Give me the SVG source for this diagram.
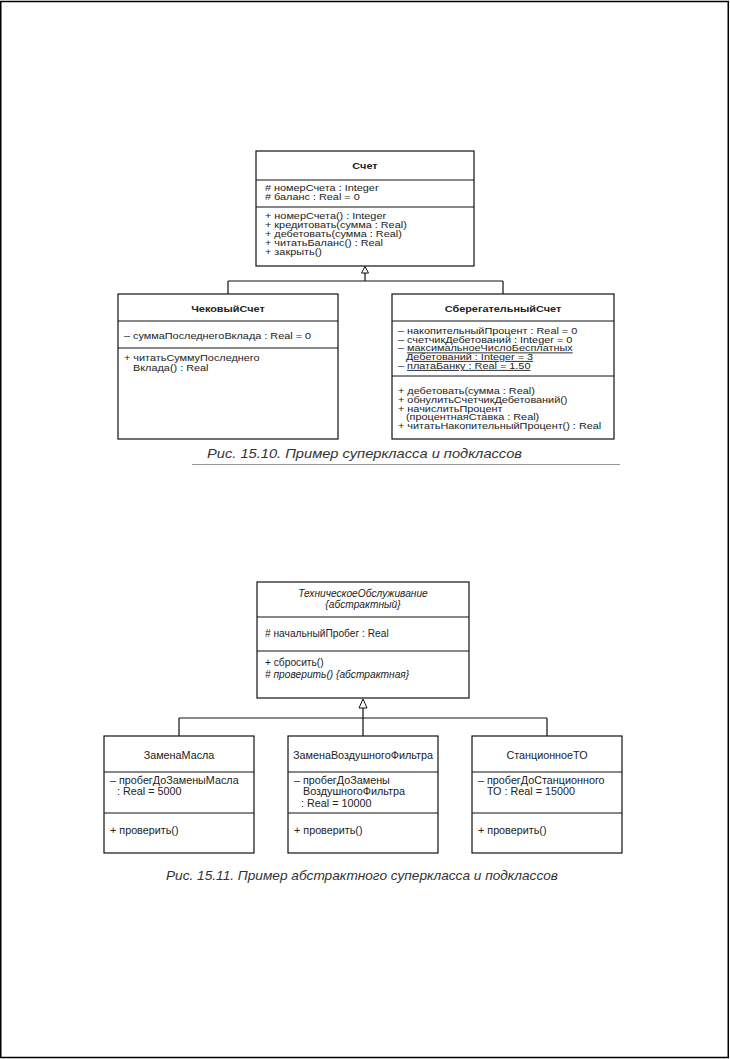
<svg xmlns="http://www.w3.org/2000/svg" width="730" height="1059" viewBox="0 0 730 1059">
<style>
.box{fill:#fff;stroke:#111;stroke-width:1.2}
.div{stroke:#111;stroke-width:1}
.con{fill:none;stroke:#111;stroke-width:1.2}
.tri{fill:#fff;stroke:#111;stroke-width:1}
text{font-family:"Liberation Sans",Arial,sans-serif;fill:#222}
.s1{font-size:9.3px;transform-box:fill-box;transform-origin:0 50%;transform:scaleX(1.17)}
.s2{font-size:10px;transform-box:fill-box;transform-origin:0 50%;transform:scaleX(1.08)}
.s3{font-size:10px;transform-box:fill-box;transform-origin:0 50%;transform:scaleX(1.02)}
.b{font-weight:bold}
.i{font-style:italic}
.c{text-anchor:middle;transform-origin:50% 50%}
.cap{font-size:13px;font-style:italic;fill:#333}
.u{text-decoration:underline}
</style>
<rect x="0.75" y="1.5" width="727.5" height="1056" fill="#fff" stroke="#000" stroke-width="1.5"/>

<!-- Diagram 1 -->
<g id="connectors1">
<path class="con" d="M365 273V281M228 281H503M228 281V294M503 281V294"/>
<path class="tri" d="M365 266.5L368.5 273H361.5Z"/>
</g>
<g id="schet">
<rect class="box" x="256" y="151" width="218" height="115"/>
<line class="div" x1="256" y1="180" x2="474" y2="180"/>
<line class="div" x1="256" y1="207" x2="474" y2="207"/>
<text class="s1 b c" x="365" y="169">Счет</text>
<text class="s1" x="265" y="191"># номерСчета : Integer</text>
<text class="s1" x="265" y="200.5"># баланс : Real = 0</text>
<text class="s1" x="265" y="219">+ номерСчета() : Integer</text>
<text class="s1" x="265" y="228">+ кредитовать(сумма : Real)</text>
<text class="s1" x="265" y="237">+ дебетовать(сумма : Real)</text>
<text class="s1" x="265" y="246">+ читатьБаланс() : Real</text>
<text class="s1" x="265" y="255">+ закрыть()</text>
</g>
<g id="chekovyi">
<rect class="box" x="118" y="294" width="220" height="145"/>
<line class="div" x1="118" y1="321" x2="338" y2="321"/>
<line class="div" x1="118" y1="348" x2="338" y2="348"/>
<text class="s1 b c" x="228" y="312">ЧековыйСчет</text>
<text class="s1" x="124" y="339">– суммаПоследнегоВклада : Real = 0</text>
<text class="s1" x="124" y="361">+ читатьСуммуПоследнего</text>
<text class="s1" x="133" y="371">Вклада() : Real</text>
</g>
<g id="sberegatelnyi">
<rect class="box" x="392" y="294" width="222" height="145"/>
<line class="div" x1="392" y1="321" x2="614" y2="321"/>
<line class="div" x1="392" y1="376" x2="614" y2="376"/>
<text class="s1 b c" x="503" y="312">СберегательныйСчет</text>
<text class="s1" x="398" y="334.5">– накопительныйПроцент : Real = 0</text>
<text class="s1" x="398" y="343">– счетчикДебетований : Integer = 0</text>
<text class="s1" x="398" y="351.5">– <tspan class="u">максимальноеЧислоБесплатных</tspan></text>
<text class="s1 u" x="406" y="360">Дебетований : Integer = 3</text>
<text class="s1" x="398" y="369">– <tspan class="u">платаБанку : Real = 1.50</tspan></text>
<text class="s1" x="398" y="394">+ дебетовать(сумма : Real)</text>
<text class="s1" x="398" y="403">+ обнулитьСчетчикДебетований()</text>
<text class="s1" x="398" y="412">+ начислитьПроцент</text>
<text class="s1" x="406" y="420.5">(процентнаяСтавка : Real)</text>
<text class="s1" x="398" y="429">+ читатьНакопительныйПроцент() : Real</text>
</g>
<g id="caption1">
<text class="cap" x="207" y="458" textLength="315" lengthAdjust="spacingAndGlyphs">Рис. 15.10. Пример суперкласса и подклассов</text>
<line x1="192" y1="464.5" x2="620" y2="464.5" stroke="#999" stroke-width="1"/>
</g>

<!-- Diagram 2 -->
<g id="connectors2">
<path class="con" d="M363 708V718M179 718H547M179 718V736M363 718V736M547 718V736"/>
<path class="tri" d="M363 699L367 708H359Z"/>
</g>
<g id="tehobsl">
<rect class="box" x="257" y="582" width="212" height="116"/>
<line class="div" x1="257" y1="617" x2="469" y2="617"/>
<line class="div" x1="257" y1="651" x2="469" y2="651"/>
<text class="s3 i c" x="363" y="597">ТехническоеОбслуживание</text>
<text class="s3 i c" x="363" y="608">{абстрактный}</text>
<text class="s3" x="265" y="637"># начальныйПробег : Real</text>
<text class="s3" x="265" y="666">+ сбросить()</text>
<text class="s3 i" x="265" y="678"># проверить() {абстрактная}</text>
</g>
<g id="zamenaMasla">
<rect class="box" x="104" y="736" width="150" height="117"/>
<line class="div" x1="104" y1="772" x2="254" y2="772"/>
<line class="div" x1="104" y1="813" x2="254" y2="813"/>
<text class="s2 c" x="179" y="759">ЗаменаМасла</text>
<text class="s2" x="110" y="784">– пробегДоЗаменыМасла</text>
<text class="s2" x="117" y="795.5">: Real = 5000</text>
<text class="s2" x="110" y="834">+ проверить()</text>
</g>
<g id="zamenaFiltra">
<rect class="box" x="288" y="736" width="150" height="117"/>
<line class="div" x1="288" y1="772" x2="438" y2="772"/>
<line class="div" x1="288" y1="813" x2="438" y2="813"/>
<text class="s2 c" x="363" y="759">ЗаменаВоздушногоФильтра</text>
<text class="s2" x="294" y="784">– пробегДоЗамены</text>
<text class="s2" x="303" y="795.5">ВоздушногоФильтра</text>
<text class="s2" x="301" y="807">: Real = 10000</text>
<text class="s2" x="294" y="834">+ проверить()</text>
</g>
<g id="stancionnoe">
<rect class="box" x="472" y="736" width="150" height="117"/>
<line class="div" x1="472" y1="772" x2="622" y2="772"/>
<line class="div" x1="472" y1="813" x2="622" y2="813"/>
<text class="s2 c" x="547" y="759">СтанционноеТО</text>
<text class="s2" x="478" y="784">– пробегДоСтанционного</text>
<text class="s2" x="487" y="795.5">ТО : Real = 15000</text>
<text class="s2" x="478" y="834">+ проверить()</text>
</g>
<g id="caption2">
<text class="cap" x="166" y="880" textLength="392" lengthAdjust="spacingAndGlyphs">Рис. 15.11. Пример абстрактного суперкласса и подклассов</text>
</g>
</svg>
